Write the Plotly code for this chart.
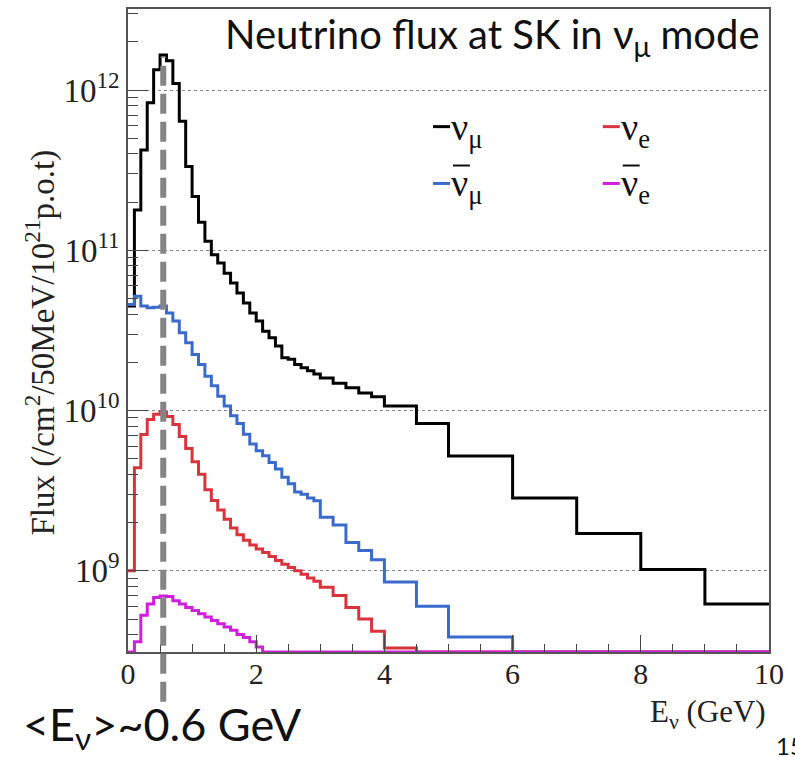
import plotly.graph_objects as go

# ---------------- data ----------------
bin_edges = [round(0.1 * i, 1) for i in range(31)] + [3.2, 3.4, 3.6, 3.8, 4.0, 4.5, 5.0, 6.0, 7.0, 8.0, 9.0, 10.0]

numu = [4.5e10, 1.79e11, 4.24e11, 8.36e11, 1.34e12, 1.66e12, 1.53e12, 1.10e12, 6.4e11, 3.34e11,
        2.17e11, 1.50e11, 1.14e11, 9.4e10, 8.35e10, 7.2e10, 6.26e10, 5.43e10, 4.7e10, 4.07e10,
        3.62e10, 3.13e10, 2.85e10, 2.53e10, 2.14e10, 2.09e10, 1.94e10, 1.85e10, 1.77e10, 1.69e10,
        1.60e10, 1.48e10, 1.39e10, 1.29e10, 1.22e10, 1.07e10, 8.3e9, 5.2e9, 2.85e9, 1.71e9, 1.02e9, 6.2e8]

numubar = [4.6e10, 5.18e10, 4.5e10, 4.38e10, 4.42e10, 4.49e10, 4.07e10, 3.62e10, 3.06e10, 2.65e10,
           2.24e10, 1.94e10, 1.64e10, 1.43e10, 1.23e10, 1.07e10, 9.27e9, 8.3e9, 7.13e9, 6.18e9,
           5.61e9, 5.23e9, 4.75e9, 4.32e9, 3.83e9, 3.5e9, 3.1e9, 3.0e9, 2.85e9, 2.74e9,
           2.16e9, 1.93e9, 1.5e9, 1.34e9, 1.17e9, 8.5e8, 6.0e8, 3.86e8, 0, 0, 0, 0]

nue = [1.0e9, 4.4e9, 7.1e9, 8.8e9, 9.5e9, 9.8e9, 9.2e9, 8.2e9, 6.9e9, 5.8e9,
       4.8e9, 4.0e9, 3.2e9, 2.75e9, 2.4e9, 2.1e9, 1.85e9, 1.68e9, 1.55e9, 1.45e9,
       1.37e9, 1.3e9, 1.23e9, 1.16e9, 1.1e9, 1.05e9, 1.0e9, 9.5e8, 9.0e8, 8.6e8,
       7.9e8, 7.0e8, 5.9e8, 5.0e8, 4.2e8, 3.3e8, 0, 0, 0, 0, 0, 0]

nuebar = [0, 3.6e8, 5.27e8, 6.2e8, 6.8e8, 6.95e8, 6.9e8, 6.5e8, 6.2e8, 5.9e8,
          5.66e8, 5.4e8, 5.14e8, 4.9e8, 4.67e8, 4.45e8, 4.25e8, 4.0e8, 3.83e8, 3.6e8,
          3.34e8, 0, 0, 0, 0, 0, 0, 0, 0, 0,
          0, 0, 0, 0, 0, 0, 0, 0, 0, 0, 0, 0]

mean_energy = 0.55
y_log_range = [8.493, 12.507]
x_range = [0, 10]
y_tick_vals = [1e9, 1e10, 1e11, 1e12]
y_tick_text = ["10<sup>9</sup>", "10<sup>10</sup>", "10<sup>11</sup>", "10<sup>12</sup>"]
x_tick_vals = [0, 2, 4, 6, 8, 10]

# ---------------- figure ----------------
W, H = 795, 757
ML, MR, MT, MB = 127.5, 25.5, 7, 105
PW, PH = W - ML - MR, H - MT - MB

def px(p):
    return (p - ML) / PW

def py(p):
    return (H - MB - p) / PH

floor = 10 ** y_log_range[0]

def step(vals):
    xs = bin_edges[:-1] + [bin_edges[-1]]
    ys = [v if v > 0 else floor for v in vals]
    ys = ys + [ys[-1]]
    return xs, ys

series = [
    ("ν_μ", numu, "#000000"),
    ("anti ν_μ", numubar, "#3b6acb"),
    ("ν_e", nue, "#d7343c"),
    ("anti ν_e", nuebar, "#cf1fdc"),
]

fig = go.Figure()
for name, vals, col in series:
    xs, ys = step(vals)
    fig.add_trace(go.Scatter(x=xs, y=ys, mode="lines", line=dict(color=col, width=3, shape="hv"),
                             name=name, showlegend=False, hoverinfo="skip"))

serif = "Liberation Serif, Times New Roman, serif"
sans = "Lato, Open Sans, sans-serif"

fig.update_layout(
    width=W, height=H,
    margin=dict(l=ML, r=MR, t=MT, b=MB, pad=0),
    paper_bgcolor="white", plot_bgcolor="white",
    showlegend=False,
    xaxis=dict(range=x_range, tickmode="array", tickvals=x_tick_vals,
               ticks="inside", ticklen=17, tickwidth=1.2, tickcolor="#444",
               minor=dict(ticks="inside", ticklen=8, dtick=0.5, tickwidth=1.2, tickcolor="#444", showgrid=False),
               showgrid=False, zeroline=False, ticklabelstandoff=-6,
               showline=True, mirror=True, linecolor="#555", linewidth=1.5,
               tickfont=dict(family=serif, size=30, color="#222")),
    yaxis=dict(type="log", range=y_log_range, tickmode="array", tickvals=y_tick_vals, ticktext=y_tick_text,
               ticks="inside", ticklen=20, tickwidth=1.2, tickcolor="#444",
               minor=dict(ticks="inside", ticklen=10, dtick="D1", tickwidth=1.2, tickcolor="#444", showgrid=False),
               showgrid=True, gridcolor="#888", griddash="dot", gridwidth=1,
               zeroline=False,
               showline=True, mirror=True, linecolor="#555", linewidth=1.5,
               tickfont=dict(family=serif, size=33, color="#222")),
)

# mean energy dashed marker
fig.add_shape(type="line", xref="x", yref="paper", x0=mean_energy, x1=mean_energy,
              y0=py(702), y1=py(55), line=dict(color="#858585", width=6, dash="20px,8px"), layer="above")

# axis titles
fig.add_annotation(xref="paper", yref="paper", x=px(40), y=py(342), xanchor="center", yanchor="middle",
                   text="Flux (/cm<sup>2</sup>/50MeV/10<sup>21</sup>p.o.t)", textangle=-90, showarrow=False,
                   font=dict(family=serif, size=33, color="#222"))
fig.add_annotation(xref="paper", yref="paper", x=px(768), y=py(714), xanchor="right", yanchor="middle",
                   text="E<sub>ν</sub> (GeV)", showarrow=False,
                   font=dict(family=serif, size=31, color="#222"))

# slide texts
fig.add_annotation(xref="paper", yref="paper", x=px(762), y=py(35), xanchor="right", yanchor="middle",
                   text="Neutrino flux at SK in ν<sub>μ</sub> mode", showarrow=False,
                   font=dict(family=sans, size=40, color="#111"))
fig.add_annotation(xref="paper", yref="paper", x=px(20), y=py(727), xanchor="left", yanchor="middle",
                   text="&lt;E<sub>ν</sub>&gt;~0.6 GeV", showarrow=False,
                   font=dict(family=sans, size=45, color="#111"))
fig.add_annotation(xref="paper", yref="paper", x=px(775), y=py(746), xanchor="left", yanchor="middle",
                   text="15", showarrow=False, font=dict(family=sans, size=24, color="#111"))

# legend (2x2)
legend_items = [
    ("ν<sub>μ</sub>", "#000000", 433, 125, False),
    ("ν<sub>e</sub>", "#d7343c", 603, 125, False),
    ("ν<sub>μ</sub>", "#3b6acb", 433, 182, True),
    ("ν<sub>e</sub>", "#cf1fdc", 603, 182, True),
]
for txt, col, x0, yc, bar in legend_items:
    fig.add_shape(type="line", xref="paper", yref="paper", x0=px(x0), x1=px(x0 + 17), y0=py(yc), y1=py(yc),
                  line=dict(color=col, width=3))
    fig.add_annotation(xref="paper", yref="paper", x=px(x0 + 16), y=py(yc + 3), xanchor="left", yanchor="middle",
                       text=txt, showarrow=False, font=dict(family=serif, size=38, color="#111"))
    if bar:
        fig.add_shape(type="line", xref="paper", yref="paper", x0=px(x0 + 20), x1=px(x0 + 37),
                      y0=py(yc - 18), y1=py(yc - 18), line=dict(color="#111", width=2))

fig.write_html("out.html")
